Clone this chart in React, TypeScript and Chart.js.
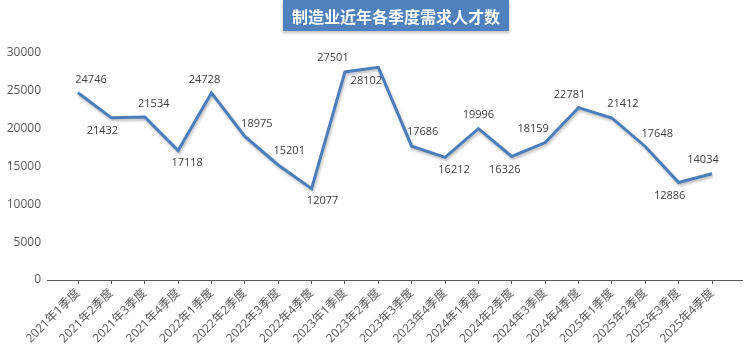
import React, { useEffect, useRef } from "react";
import { Chart, registerables } from "chart.js";

Chart.register(...registerables);

const categories = [
  "2021年1季度", "2021年2季度", "2021年3季度", "2021年4季度",
  "2022年1季度", "2022年2季度", "2022年3季度", "2022年4季度",
  "2023年1季度", "2023年2季度", "2023年3季度", "2023年4季度",
  "2024年1季度", "2024年2季度", "2024年3季度", "2024年4季度",
  "2025年1季度", "2025年2季度", "2025年3季度", "2025年4季度",
];

const demand = [
  24746, 21432, 21534, 17118,
  24728, 18975, 15201, 12077,
  27501, 28102, 17686, 16212,
  19996, 16326, 18159, 22781,
  21412, 17648, 12886, 14034,
];

const yTicks = [0, 5000, 10000, 15000, 20000, 25000, 30000];

const titleText = "制造业近年各季度需求人才数";

// label placement relative to each point (dx, dy) in px
const labelOffsets: [number, number][] = [
  [13, -13], [-9, 13], [9, -13], [9, 12],
  [-7, -13], [12, -13], [11, -14], [11, 12],
  [-12, -14], [-12, 13], [11, -14], [9, 13],
  [0, -14], [-7, 13], [-12, -14], [-9, -13],
  [11, -14], [12, -13], [-9, 13], [-9, -14],
];

const FONT = "'Open Sans', 'Noto Sans CJK SC', sans-serif";
const CJK_FONT = "'Noto Sans CJK SC', sans-serif";

export default function App() {
  const ref = useRef<HTMLCanvasElement | null>(null);

  useEffect(() => {
    document.body.style.margin = "0";
    const canvas = ref.current;
    if (!canvas) return;

    const decor = {
      id: "decor",
      beforeDatasetsDraw(chart: any) {
        const ctx = chart.ctx;
        ctx.save();
        ctx.shadowColor = "rgba(0,0,0,0.28)";
        ctx.shadowBlur = 3;
        ctx.shadowOffsetX = 1;
        ctx.shadowOffsetY = 2;
      },
      afterDatasetsDraw(chart: any) {
        const ctx = chart.ctx;
        ctx.restore();
        const meta = chart.getDatasetMeta(0);
        ctx.save();
        ctx.font = `11px ${FONT}`;
        ctx.fillStyle = "#404040";
        ctx.textAlign = "center";
        ctx.textBaseline = "middle";
        meta.data.forEach((pt: any, i: number) => {
          const [dx, dy] = labelOffsets[i];
          ctx.fillText(String(demand[i]), pt.x + dx, pt.y + dy);
        });
        ctx.restore();
      },
      afterDraw(chart: any) {
        const ctx = chart.ctx;
        const area = chart.chartArea;
        const y = chart.scales.y.getPixelForValue(0);
        ctx.save();
        ctx.strokeStyle = "#595959";
        ctx.lineWidth = 1;
        ctx.beginPath();
        ctx.moveTo(area.left - 31, Math.round(y) + 0.5);
        ctx.lineTo(area.right + 31, Math.round(y) + 0.5);
        ctx.stroke();
        // title box
        const bx = 283, by = 0, bw = 226, bh = 31;
        ctx.shadowColor = "rgba(0,0,0,0.25)";
        ctx.shadowBlur = 3;
        ctx.shadowOffsetY = 2;
        ctx.fillStyle = "#4F81BD";
        ctx.fillRect(bx, by, bw, bh);
        ctx.shadowColor = "transparent";
        ctx.fillStyle = "#FFFFFF";
        ctx.font = `bold 16px ${CJK_FONT}`;
        ctx.textAlign = "center";
        ctx.textBaseline = "middle";
        ctx.fillText(titleText, bx + bw / 2, by + bh / 2 + 1);
        ctx.restore();
      },
    };

    const chart = new Chart(canvas, {
      type: "line",
      data: {
        labels: categories,
        datasets: [
          {
            data: demand,
            borderColor: "#4A7EBB",
            borderWidth: 3,
            pointRadius: 0,
            tension: 0,
            fill: false,
          },
        ],
      },
      options: {
        responsive: false,
        animation: false,
        layout: { padding: { left: 0, right: 38, top: 53, bottom: 0 } },
        plugins: {
          legend: { display: false },
          title: { display: false },
          tooltip: { enabled: false },
        },
        scales: {
          x: {
            type: "category",
            offset: false,
            border: { display: false },
            grid: {
              drawOnChartArea: false,
              drawTicks: true,
              tickLength: 4,
              color: "#595959",
            },
            ticks: {
              autoSkip: false,
              maxRotation: 45,
              minRotation: 45,
              color: "#595959",
              font: { family: FONT, size: 12 },
              padding: 2,
            },
            afterFit(scale: any) {
              scale.height = 73;
            },
          },
          y: {
            min: 0,
            max: 30000,
            border: { display: false },
            grid: { display: false, drawTicks: false },
            afterBuildTicks(scale: any) {
              scale.ticks = yTicks.map((v) => ({ value: v }));
            },
            ticks: {
              color: "#595959",
              font: { family: FONT, size: 12 },
              padding: 37,
              callback: (v: any) => String(v),
            },
            afterFit(scale: any) {
              scale.width = 78;
            },
          },
        },
      },
      plugins: [decor],
    });

    return () => chart.destroy();
  }, []);

  return (
    <div style={{ width: 750, height: 353 }}>
      <canvas ref={ref} width={750} height={353} style={{ display: "block" }} />
    </div>
  );
}
